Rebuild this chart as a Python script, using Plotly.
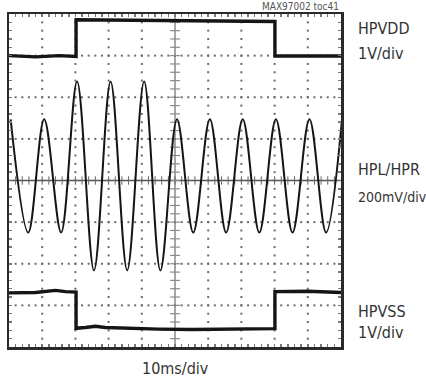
import plotly.graph_objects as go

# ---- data (time in ms, values in divisions) ----
peak_t = [0.5, 10.6, 20.5, 30.6, 40.7, 50.6, 60.5, 70.4, 80.4, 90.5, 100.3]
peak_v = [1.47, 1.47, 2.38, 2.38, 2.38, 1.47, 1.47, 1.47, 1.47, 1.47, 1.47]
trough_t = [5.8, 15.7, 25.6, 35.6, 45.6, 55.5, 65.4, 75.4, 85.4, 95.5]
trough_v = [-1.25, -1.25, -2.16, -2.16, -2.16, -1.25, -1.25, -1.25, -1.25, -1.25]

hpvdd_t = [0, 8, 15, 20.2, 20.2, 35, 50, 65, 80.1, 80.1, 90, 100]
hpvdd_v = [3.00, 2.97, 3.00, 2.98, 3.86, 3.85, 3.83, 3.82, 3.82, 2.99, 2.98, 2.99]

hpvss_t = [0, 8, 14, 17, 20.2, 20.2, 23, 26, 29, 35, 45, 55, 65, 80.1, 80.1, 90, 100]
hpvss_v = [-2.70, -2.69, -2.64, -2.67, -2.68, -3.55, -3.53, -3.50, -3.53, -3.55, -3.57, -3.58, -3.58, -3.56, -2.67, -2.66, -2.69]

x_range = [0, 100]
y_range = [-4, 4]
x_major = 10
y_major = 1
minor_div = 5

labels = [("HPVDD", 29, 16), ("1V/div", 54, 16), ("HPL/HPR", 169.5, 16), ("200mV/div", 196.5, 14),
          ("HPVSS", 311.5, 16), ("1V/div", 332, 16)]

W, H = 426, 383
L, R, T, B = 9, 85, 14, 36
FONT = "Liberation Sans Narrow, DejaVu Sans Condensed, Arial Narrow, sans-serif"

# merge extrema into one ordered trace
sine = sorted(zip(peak_t + trough_t, peak_v + trough_v))
sine_t = [p[0] for p in sine]
sine_v = [p[1] for p in sine]

fig = go.Figure()

# dotted graticule
xc = (x_range[0] + x_range[1]) / 2
yc = (y_range[0] + y_range[1]) / 2
nx = int((x_range[1] - x_range[0]) / x_major)
ny = int((y_range[1] - y_range[0]) / y_major)
dx = x_major / minor_div
dy = y_major / minor_div
gx, gy = [], []
for i in range(1, nx):
    xv = x_range[0] + i * x_major
    if abs(xv - xc) < 1e-9:
        continue
    for j in range(1, ny * minor_div):
        gx.append(xv)
        gy.append(y_range[0] + j * dy)
for j in range(1, ny):
    yv = y_range[0] + j * y_major
    if abs(yv - yc) < 1e-9:
        continue
    for i in range(1, nx * minor_div):
        gx.append(x_range[0] + i * dx)
        gy.append(yv)
fig.add_trace(go.Scatter(x=gx, y=gy, mode="markers", hoverinfo="skip",
                         marker=dict(symbol="square", size=2, color="#6a6a6a", line=dict(width=0))))

# centre axes with ticks
fig.add_shape(type="line", x0=xc, x1=xc, y0=y_range[0], y1=y_range[1], xref="x", yref="y",
              line=dict(color="#8a8a8a", width=1.5), layer="below")
fig.add_shape(type="line", x0=x_range[0], x1=x_range[1], y0=yc, y1=yc, xref="x", yref="y",
              line=dict(color="#555555", width=1.5), layer="below")
tx = [x_range[0] + i * dx for i in range(1, nx * minor_div)]
fig.add_trace(go.Scatter(x=tx, y=[yc] * len(tx), mode="markers", hoverinfo="skip",
                         marker=dict(symbol="line-ns", size=6, line=dict(color="#666666", width=1))))
ty = [y_range[0] + j * dy for j in range(1, ny * minor_div)]
fig.add_trace(go.Scatter(x=[xc] * len(ty), y=ty, mode="markers", hoverinfo="skip",
                         marker=dict(symbol="line-ew", size=7, line=dict(color="#8a8a8a", width=1.2))))

# waveforms
fig.add_trace(go.Scatter(x=hpvdd_t, y=hpvdd_v, mode="lines",
                         line=dict(color="#151515", width=3.4)))
fig.add_trace(go.Scatter(x=hpvss_t, y=hpvss_v, mode="lines",
                         line=dict(color="#151515", width=3.4)))
fig.add_trace(go.Scatter(x=sine_t, y=sine_v, mode="lines",
                         line=dict(color="#151515", width=2, shape="spline", smoothing=1.0)))

axis_common = dict(showgrid=False, zeroline=False, showticklabels=False, showline=True,
                   linecolor="#2a2a2a", linewidth=2.5, mirror="ticks", ticks="inside",
                   ticklen=3, tickwidth=1.5, tickcolor="#7a7a7a")
fig.update_xaxes(range=x_range, dtick=dx, tick0=x_range[0], **axis_common)
fig.update_yaxes(range=y_range, dtick=dy, tick0=y_range[0], **axis_common)

def py2paper(py):
    return (H - B - py) / (H - T - B)

def px2paper(px):
    return (px - L) / (W - L - R)

for txt, py, fs in labels:
    fig.add_annotation(text=txt, xref="paper", yref="paper", x=px2paper(356), y=py2paper(py),
                       xanchor="left", yanchor="middle", showarrow=False,
                       font=dict(family=FONT, size=fs, color="#333333"))
fig.add_annotation(text="10ms/div", xref="paper", yref="paper", x=px2paper(175.5), y=py2paper(368.5),
                   xanchor="center", yanchor="middle", showarrow=False,
                   font=dict(family=FONT, size=16, color="#333333"))
fig.add_annotation(text="MAX97002 toc41", xref="paper", yref="paper", x=px2paper(341), y=py2paper(7),
                   xanchor="right", yanchor="middle", showarrow=False,
                   font=dict(family=FONT, size=10, color="#555555"))

fig.update_layout(width=W, height=H, autosize=False, showlegend=False,
                  margin=dict(l=L, r=R, t=T, b=B, pad=0),
                  paper_bgcolor="white", plot_bgcolor="white")

fig.write_html("out.html", config={"displayModeBar": False, "staticPlot": True},
               post_script="document.body.style.margin='0';document.body.style.overflow='hidden';")
